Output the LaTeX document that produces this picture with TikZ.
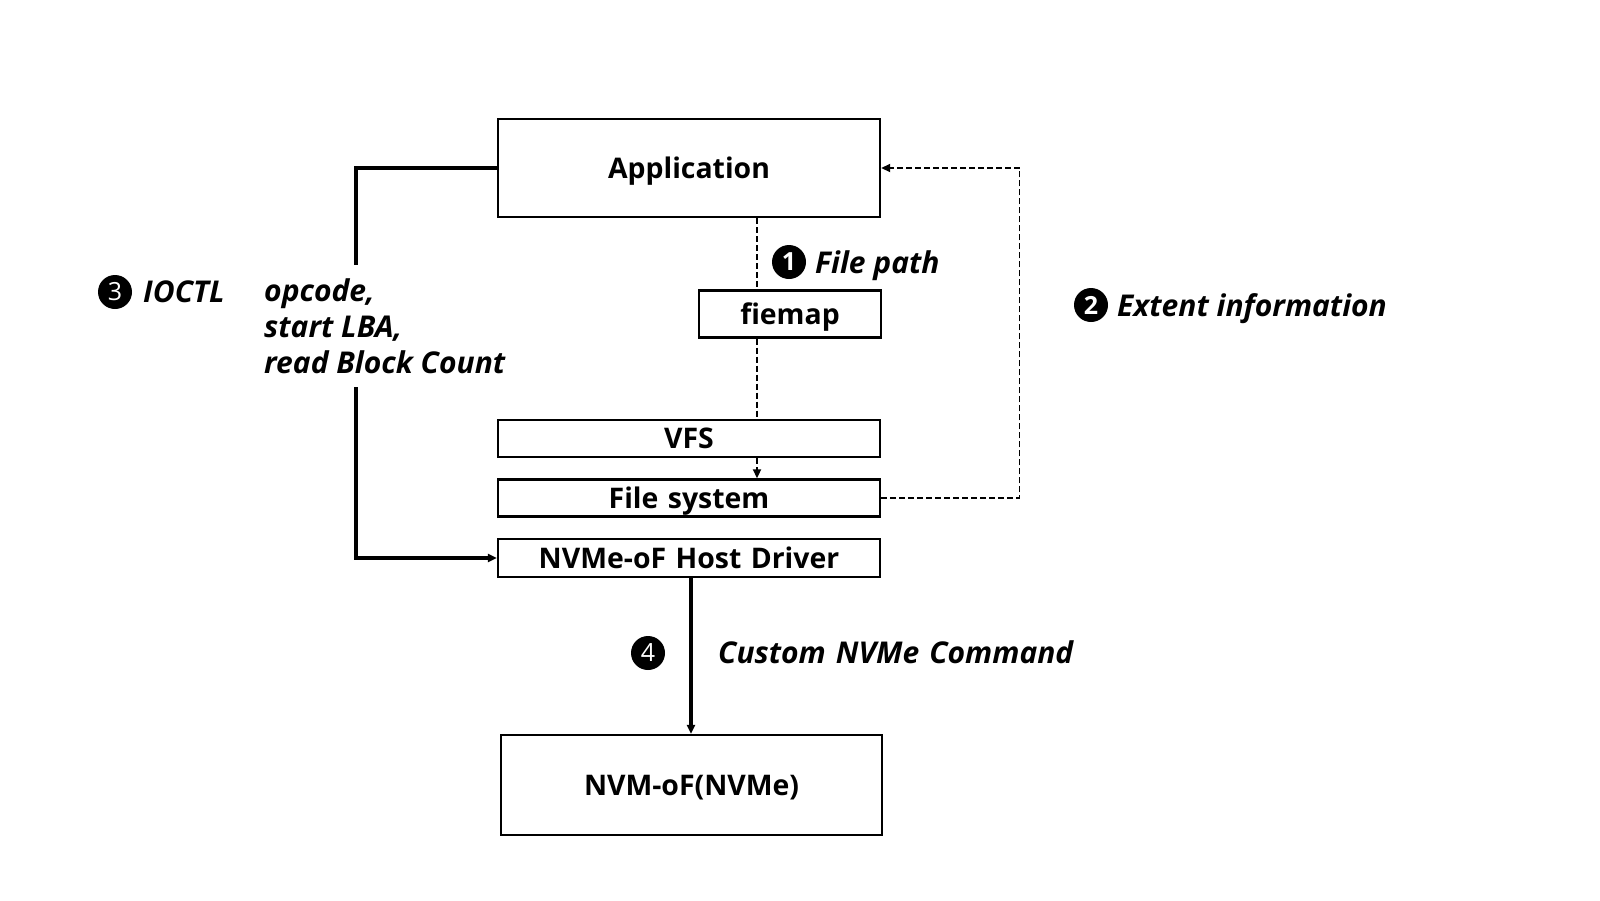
\documentclass[tikz,border=0pt]{standalone}
\usepackage{fontspec}
\setmainfont{Open Sans}
\usetikzlibrary{arrows.meta,calc}
\begin{document}
\begin{tikzpicture}[x=1pt,y=-1pt,
  box/.style={draw=black,line width=2.4pt,minimum width=382pt,inner sep=0pt,text height=20.5pt,text depth=0pt,font=\bfseries\fontsize{28.4}{32}\selectfont},
  lbl/.style={font=\bfseries\itshape\fontsize{30}{35.5}\selectfont,inner sep=0pt,anchor=west,text height=21.5pt,text depth=0pt},
  mlbl/.style={font=\bfseries\itshape\fontsize{30}{35.5}\selectfont,inner sep=0pt,align=left,anchor=north west},
  num/.style={circle,fill=black,text=white,minimum size=34pt,inner sep=0pt,font=\bfseries\fontsize{25}{26}\selectfont},
  numl/.style={num,font=\fontsize{25}{26}\selectfont},
  dline/.style={line width=1.9pt,dash pattern=on 6pt off 3pt},
  sline/.style={line width=3.2pt},
  tip/.style={-{Triangle[length=9pt,width=8pt]}}
]
\useasboundingbox (0,0) rectangle (1600,900);
\node[box,minimum height=98pt] (app) at (689,168) {Application};
\node[box,minimum width=182pt,minimum height=47pt] (fie) at (790,314) {fiemap};
\node[box,minimum height=37pt] (vfs) at (689,438.5) {VFS};
\node[box,minimum height=37pt] (fs) at (689,498) {File\,\,system};
\node[box,minimum height=38pt] (drv) at (689,558) {NVMe-oF\,\,Host\,\,Driver};
\node[box,minimum width=381pt,minimum height=100pt] (nvm) at (691.5,785) {NVM-oF(NVMe)};

% dashed path 1
\draw[dline] (app.south -| 757,0) -- (fie.north -| 757,0);
\draw[dline] (fie.south -| 757,0) -- (vfs.north -| 757,0);
\draw[dline,tip] (vfs.south -| 757,0) -- (fs.north -| 757,0);
\node[num] (n1) at (789,262) {1};
\node[lbl] (l1) at (815,263) {File path};

% dashed path 2
\coordinate (c2a) at (1019.5,498);
\coordinate (c2b) at (1019.5,168);
\draw[dline,tip] (fs.east) -- (c2a) -- (c2b) -- (app.east);
\node[num] (n2) at (1091,305) {2};
\node[lbl] (l2) at (1117,306) {Extent information};

% IOCTL path
\coordinate (c3a) at (356,168);
\coordinate (c3b) at (356,265);
\coordinate (c3c) at (356,387);
\coordinate (c3d) at (356,558);
\draw[sline] (app.west) -- (c3a) -- (c3b);
\draw[sline,tip] (c3c) -- (c3d) -- (drv.west);
\node[numl] (n3) at (115,292) {3};
\node[lbl] (l3) at (143,292) {IOCTL};
\node[mlbl] (l3b) at (264,279) {opcode,\\start LBA,\\read Block Count};

% NVMe command
\draw[sline,tip] (drv.south -| 691,0) -- (nvm.north -| 691,0);
\node[numl] (n4) at (648,653) {4};
\node[lbl] (l4) at (718,653) {Custom\,\,NVMe\,\,Command};
\end{tikzpicture}
\end{document}
